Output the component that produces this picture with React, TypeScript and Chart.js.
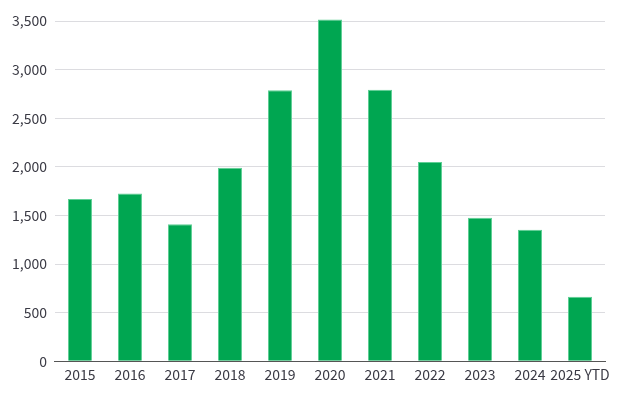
import React, { useEffect, useRef } from "react";
import { Chart, registerables } from "chart.js";

Chart.register(...registerables);

const categories = ["2015", "2016", "2017", "2018", "2019", "2020", "2021", "2022", "2023", "2024", "2025 YTD"];
const values = [1670, 1725, 1410, 1990, 2788, 3515, 2793, 2050, 1475, 1352, 662];
const yTicks = [0, 500, 1000, 1500, 2000, 2500, 3000, 3500];

export default function App() {
  const ref = useRef<HTMLCanvasElement | null>(null);
  useEffect(() => {
    if (!ref.current) return;
    const chart = new Chart(ref.current, {
      type: "bar",
      data: {
        labels: categories,
        datasets: [
          {
            data: values,
            backgroundColor: "#00a651",
            borderColor: "#5fcf95",
            borderWidth: { left: 1, right: 1, top: 1, bottom: 0 },
            barPercentage: 1,
            categoryPercentage: 0.48,
            clip: false as any,
          },
        ],
      },
      options: {
        animation: false,
        responsive: false,
        maintainAspectRatio: false,
        layout: { padding: { top: 21, right: 30, left: 4, bottom: 9 } },
        plugins: { legend: { display: false }, tooltip: { enabled: false } },
        scales: {
          x: {
            grid: { display: false, drawTicks: false },
            border: { display: true, color: "#555555", width: 1 },
            ticks: {
              color: "#3a3a44",
              font: { family: "'Noto Sans CJK JP', 'Noto Sans', sans-serif", size: 14 },
              padding: 5,
              maxRotation: 0,
              autoSkip: false,
            },
          },
          y: {
            min: 0,
            max: 3500,
            afterBuildTicks: (axis: any) => {
              axis.ticks = yTicks.map((v) => ({ value: v }));
            },
            grid: { color: "#dcdce0", lineWidth: 1, drawTicks: false },
            border: { display: false },
            ticks: {
              color: "#3a3a44",
              font: { family: "'Noto Sans CJK JP', 'Noto Sans', sans-serif", size: 14 },
              padding: 8,
              callback: (v: any) => Number(v).toLocaleString("en-US"),
            },
          },
        },
      },
    });
    return () => chart.destroy();
  }, []);
  return (
    <div style={{ position: "fixed", left: 0, top: 0, width: 635, height: 397, background: "#fff" }}>
      <canvas ref={ref} width={635} height={397} style={{ width: 635, height: 397 }} />
    </div>
  );
}
